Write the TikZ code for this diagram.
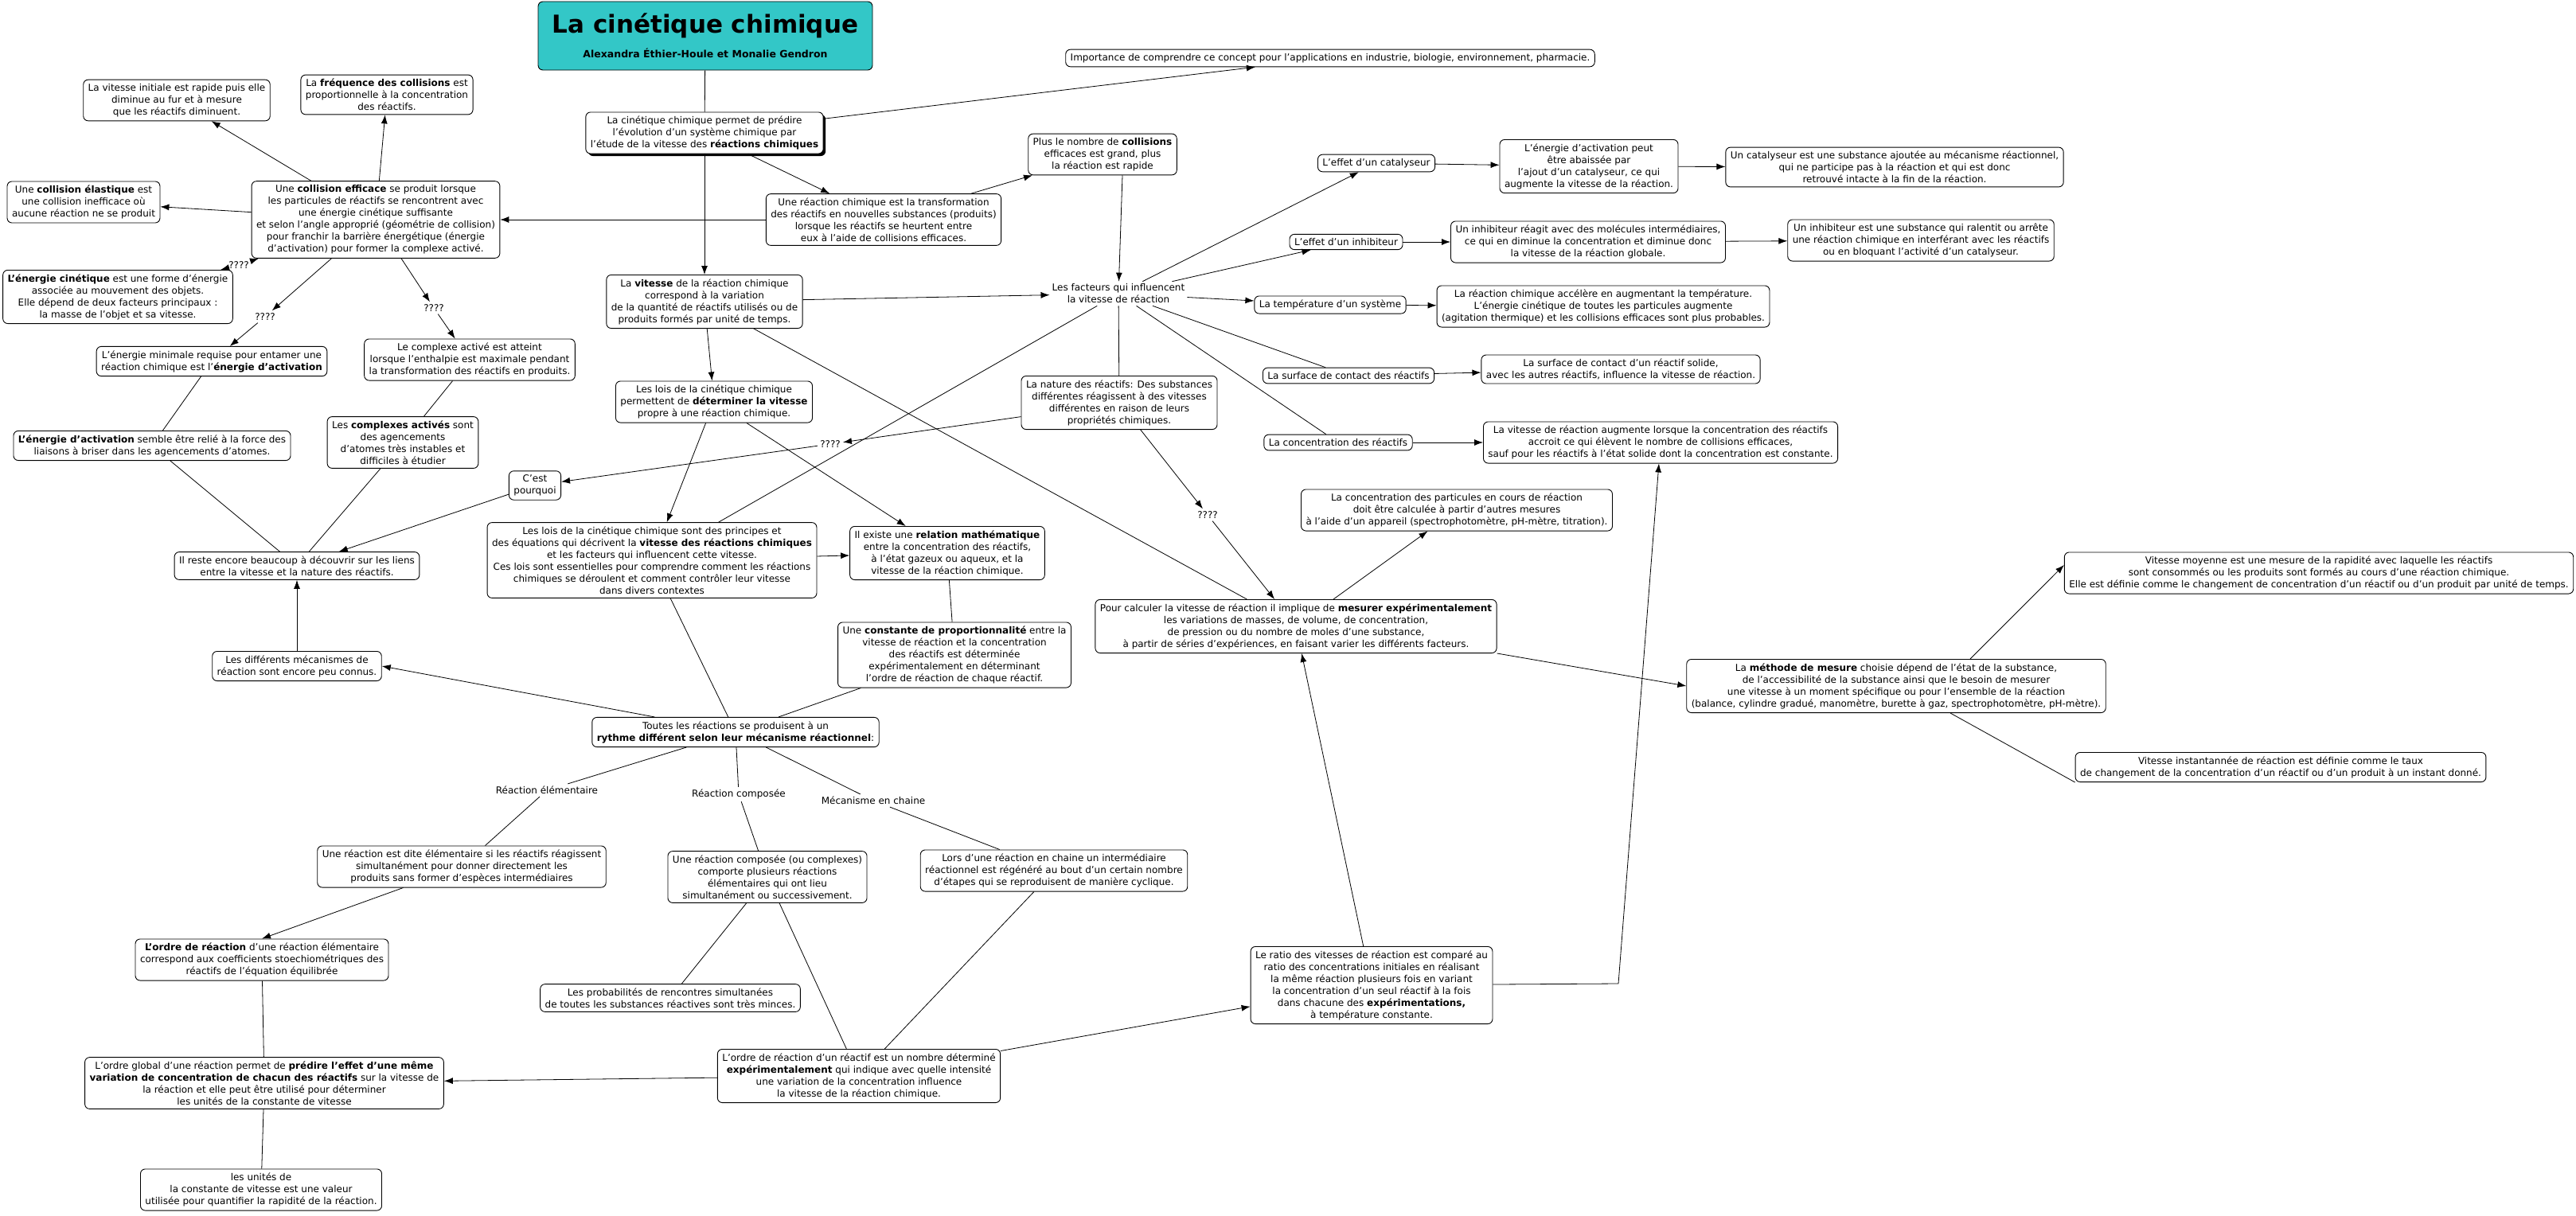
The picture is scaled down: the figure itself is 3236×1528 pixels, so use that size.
\documentclass[tikz,border=0pt]{standalone}
\usepackage{fontspec}
\setmainfont{DejaVu Sans}
\usetikzlibrary{
arrows.meta,
shadows
}
\definecolor{cmapteal}{RGB}{51,199,199}

\begin{document}
\begin{tikzpicture}[
        x=1pt, y=-1pt,
        concept box/.style={
          draw, line width=0.9pt, rounded corners=6pt,
          fill=white, align=center,
          inner xsep=6pt, inner ysep=5pt,
          font=\fontsize{12}{15}\selectfont,
        },
        title box/.style={
          concept box, fill=cmapteal,
          minimum width=420pt, minimum height=86pt,
        },
        shadowed/.style={
          drop shadow={shadow xshift=3pt, shadow yshift=-3pt, fill=black, opacity=1},
        },
        link phrase/.style={
          align=center, inner sep=3pt,
          font=\fontsize{12}{15}\selectfont,
        },
        link/.style={
          draw, line width=0.8pt,
        },
        link arrow/.style={
          link, -{Latex[length=11pt,width=8pt]},
        },
        ]
        \useasboundingbox (0,0) rectangle (3236,1528);

        \node [title box] (titre) at (886,45)
        {{\fontsize{31}{36}\selectfont\bfseries La cinétique chimique}\\[12pt]
          {\fontsize{12.5}{15}\selectfont\bfseries Alexandra Éthier-Houle et Monalie Gendron}};
        \node [concept box, shadowed] (intro) at (885,167)
        {La cinétique chimique permet de prédire\\l'évolution d'un système chimique par\\l'étude de la vitesse des \textbf{réactions chimiques}};
        \node [concept box] (importance) at (1671,73)
        {Importance de comprendre ce concept pour l'applications en industrie, biologie, environnement, pharmacie.};

        \node [concept box] (vitesse-initiale) at (222,126)
        {La vitesse initiale est rapide puis elle\\diminue au fur et à mesure\\que les réactifs diminuent.};
        \node [concept box] (frequence) at (486,119)
        {La \textbf{fréquence des collisions} est\\proportionnelle à la concentration\\des réactifs.};
        \node [concept box] (collision-elastique) at (105,254)
        {Une \textbf{collision élastique} est\\une collision inefficace où\\aucune réaction ne se produit};
        \node [concept box] (collision-efficace) at (472,276)
        {Une \textbf{collision efficace} se produit lorsque\\les particules de réactifs se rencontrent avec\\une énergie cinétique suffisante\\et selon l'angle approprié (géométrie de collision)\\pour franchir la barrière énergétique (énergie\\d'activation) pour former la complexe activé.};
        \node [concept box] (transformation) at (1110,276)
        {Une réaction chimique est la transformation\\des réactifs en nouvelles substances (produits)\\lorsque les réactifs se heurtent entre\\eux à l'aide de collisions efficaces.};
        \node [concept box] (nombre-collisions) at (1385,194)
        {Plus le nombre de \textbf{collisions}\\efficaces est grand, plus\\la réaction est rapide};
        \node [concept box] (energie-cinetique) at (148,373)
        {\textbf{L'énergie cinétique} est une forme d'énergie\\associée au mouvement des objets.\\Elle dépend de deux facteurs principaux :\\la masse de l'objet et sa vitesse.};
        \node [concept box] (vitesse) at (885,379)
        {La \textbf{vitesse} de la réaction chimique\\correspond à la variation\\de la quantité de réactifs utilisés ou de\\produits formés par unité de temps.};
        \node [link phrase] (facteurs) at (1405,369)
        {Les facteurs qui influencent\\la vitesse de réaction};

        \node [concept box] (catalyseur) at (1729,205) {L'effet d'un catalyseur};
        \node [concept box] (inhibiteur) at (1691,304) {L'effet d'un inhibiteur};
        \node [concept box] (temperature) at (1671,383) {La température d'un système};
        \node [concept box] (surface) at (1694,472) {La surface de contact des réactifs};
        \node [concept box] (concentration) at (1681,556) {La concentration des réactifs};

        \node [concept box] (catalyseur-energie) at (1996,209)
        {L'énergie d'activation peut\\être abaissée par\\l'ajout d'un catalyseur, ce qui\\augmente la vitesse de la réaction.};
        \node [concept box] (catalyseur-def) at (2380,210)
        {Un catalyseur est une substance ajoutée au mécanisme réactionnel,\\qui ne participe pas à la réaction et qui est donc\\retrouvé intacte à la fin de la réaction.};
        \node [concept box] (inhibiteur-effet) at (1995,304)
        {Un inhibiteur réagit avec des molécules intermédiaires,\\ce qui en diminue la concentration et diminue donc\\la vitesse de la réaction globale.};
        \node [concept box] (inhibiteur-def) at (2413,302)
        {Un inhibiteur est une substance qui ralentit ou arrête\\une réaction chimique en interférant avec les réactifs\\ou en bloquant l'activité d'un catalyseur.};
        \node [concept box] (temperature-def) at (2014,385)
        {La réaction chimique accélère en augmentant la température.\\L'énergie cinétique de toutes les particules augmente\\(agitation thermique) et les collisions efficaces sont plus probables.};
        \node [concept box] (surface-def) at (2036,464)
        {La surface de contact d'un réactif solide,\\avec les autres réactifs, influence la vitesse de réaction.};
        \node [concept box] (concentration-def) at (2086,556)
        {La vitesse de réaction augmente lorsque la concentration des réactifs\\accroit ce qui élèvent le nombre de collisions efficaces,\\sauf pour les réactifs à l'état solide dont la concentration est constante.};

        \node [concept box] (energie-minimale) at (266,454)
        {L'énergie minimale requise pour entamer une\\réaction chimique est l'\textbf{énergie d'activation}};
        \node [concept box] (complexe-atteint) at (590,452)
        {Le complexe activé est atteint\\lorsque l'enthalpie est maximale pendant\\la transformation des réactifs en produits.};
        \node [concept box] (lois-determiner) at (897,505)
        {Les lois de la cinétique chimique\\permettent de \textbf{déterminer la vitesse}\\propre à une réaction chimique.};
        \node [concept box] (nature) at (1406,506)
        {La nature des réactifs: Des substances\\différentes réagissent à des vitesses\\différentes en raison de leurs\\propriétés chimiques.};
        \node [concept box] (energie-activation) at (191,560)
        {\textbf{L'énergie d'activation} semble être relié à la force des\\liaisons à briser dans les agencements d'atomes.};
        \node [concept box] (complexes-actives) at (506,556)
        {Les \textbf{complexes activés} sont\\des agencements\\d'atomes très instables et\\difficiles à étudier};
        \node [concept box] (pourquoi) at (672,610) {C'est\\pourquoi};
        \node [concept box] (reste) at (373,711)
        {Il reste encore beaucoup à découvrir sur les liens\\entre la vitesse et la nature des réactifs.};
        \node [concept box] (lois-principes) at (819,704)
        {Les lois de la cinétique chimique sont des principes et\\des équations qui décrivent la \textbf{vitesse des réactions chimiques}\\et les facteurs qui influencent cette vitesse.\\Ces lois sont essentielles pour comprendre comment les réactions\\chimiques se déroulent et comment contrôler leur vitesse\\dans divers contextes};
        \node [concept box] (relation) at (1190,695)
        {Il existe une \textbf{relation mathématique}\\entre la concentration des réactifs,\\à l'état gazeux ou aqueux, et la\\vitesse de la réaction chimique.};
        \node [concept box] (particules) at (1830,641)
        {La concentration des particules en cours de réaction\\doit être calculée à partir d'autres mesures\\à l'aide d'un appareil (spectrophotomètre, pH-mètre, titration).};
        \node [concept box] (mesurer) at (1628,787)
        {Pour calculer la vitesse de réaction il implique de \textbf{mesurer expérimentalement}\\les variations de masses, de volume, de concentration,\\de pression ou du nombre de moles d'une substance,\\à partir de séries d'expériences, en faisant varier les différents facteurs.};
        \node [concept box] (constante) at (1199,823)
        {Une \textbf{constante de proportionnalité} entre la\\vitesse de réaction et la concentration\\des réactifs est déterminée\\expérimentalement en déterminant\\l'ordre de réaction de chaque réactif.};
        \node [concept box] (mecanismes) at (373,837)
        {Les différents mécanismes de\\réaction sont encore peu connus.};
        \node [concept box] (rythme) at (924,920)
        {Toutes les réactions se produisent à un\\\textbf{rythme différent selon leur mécanisme réactionnel}:};

        \node [concept box] (vitesse-moyenne) at (2913,720)
        {Vitesse moyenne est une mesure de la rapidité avec laquelle les réactifs\\sont consommés ou les produits sont formés au cours d'une réaction chimique.\\Elle est définie comme le changement de concentration d'un réactif ou d'un produit par unité de temps.};
        \node [concept box] (methode) at (2382,862)
        {La \textbf{méthode de mesure} choisie dépend de l'état de la substance,\\de l'accessibilité de la substance ainsi que le besoin de mesurer\\une vitesse à un moment spécifique ou pour l'ensemble de la réaction\\(balance, cylindre gradué, manomètre, burette à gaz, spectrophotomètre, pH-mètre).};
        \node [concept box] (vitesse-instant) at (2865,964)
        {Vitesse instantannée de réaction est définie comme le taux\\de changement de la concentration d'un réactif ou d'un produit à un instant donné.};

        \node [link phrase] (reaction-elementaire) at (687,993) {Réaction élémentaire};
        \node [link phrase] (reaction-composee) at (928,998) {Réaction composée};
        \node [link phrase] (mecanisme-chaine) at (1097,1006) {Mécanisme en chaine};

        \node [concept box] (elementaire) at (580,1089)
        {Une réaction est dite élémentaire si les réactifs réagissent\\simultanément pour donner directement les\\produits sans former d'espèces intermédiaires};
        \node [concept box] (composee) at (964,1102)
        {Une réaction composée (ou complexes)\\comporte plusieurs réactions\\élémentaires qui ont lieu\\simultanément ou successivement.};
        \node [concept box] (chaine) at (1324,1094)
        {Lors d'une réaction en chaine un intermédiaire\\réactionnel est régénéré au bout d'un certain nombre\\d'étapes qui se reproduisent de manière cyclique.};
        \node [concept box] (ordre-elementaire) at (329,1206)
        {\textbf{L'ordre de réaction} d'une réaction élémentaire\\correspond aux coefficients stoechiométriques des\\réactifs de l'équation équilibrée};
        \node [concept box] (probabilites) at (842,1254)
        {Les probabilités de rencontres simultanées\\de toutes les substances réactives sont très minces.};
        \node [concept box] (ratio) at (1723,1238)
        {Le ratio des vitesses de réaction est comparé au\\ratio des concentrations initiales en réalisant\\la même réaction plusieurs fois en variant\\la concentration d'un seul réactif à la fois\\dans chacune des \textbf{expérimentations,}\\à température constante.};
        \node [concept box] (ordre-global) at (332,1361)
        {L'ordre global d'une réaction permet de \textbf{prédire l'effet d'une même}\\\textbf{variation de concentration de chacun des réactifs} sur la vitesse de\\la réaction et elle peut être utilisé pour déterminer\\les unités de la constante de vitesse};
        \node [concept box] (ordre-reactif) at (1079,1352)
        {L'ordre de réaction d'un réactif est un nombre déterminé\\\textbf{expérimentalement} qui indique avec quelle intensité\\une variation de la concentration influence\\la vitesse de la réaction chimique.};
        \node [concept box] (unites) at (328,1495)
        {les unités de\\la constante de vitesse est une valeur\\utilisée pour quantifier la rapidité de la réaction.};

        \node [link phrase] (q-cinetique) at (300,333) {????};
        \node [link phrase] (q-minimale) at (333,398) {????};
        \node [link phrase] (q-complexe) at (545,387) {????};
        \node [link phrase] (q-pourquoi) at (1043,558) {????};
        \node [link phrase] (q-mesurer) at (1517,647) {????};
        \coordinate (ratio-coude) at (2033,1236);

        \draw [link] (titre) -- (intro);
        \draw [link arrow] (intro) -- (importance);
        \draw [link arrow] (intro) -- (transformation);
        \draw [link arrow] (intro) -- (vitesse);
        \draw [link arrow] (transformation) -- (collision-efficace);
        \draw [link arrow] (transformation) -- (nombre-collisions);
        \draw [link arrow] ([xshift=25pt]nombre-collisions.south) -- (facteurs);
        \draw [link arrow] (vitesse) -- (facteurs);
        \draw [link arrow] (facteurs) -- (catalyseur);
        \draw [link arrow] (facteurs) -- (inhibiteur);
        \draw [link arrow] (facteurs) -- (temperature);
        \draw [link] (facteurs) -- (surface);
        \draw [link] (facteurs) -- (concentration);
        \draw [link] (facteurs) -- (nature);
        \draw [link arrow] (catalyseur) -- (catalyseur-energie);
        \draw [link arrow] (catalyseur-energie) -- (catalyseur-def);
        \draw [link arrow] (inhibiteur) -- (inhibiteur-effet);
        \draw [link arrow] (inhibiteur-effet) -- (inhibiteur-def);
        \draw [link arrow] (temperature) -- (temperature-def);
        \draw [link arrow] (surface) -- (surface-def);
        \draw [link arrow] (concentration) -- (concentration-def);

        \draw [link arrow] (collision-efficace) -- (vitesse-initiale);
        \draw [link arrow] (collision-efficace) -- (frequence);
        \draw [link arrow] (collision-efficace) -- (collision-elastique);
        \draw [link arrow] (q-cinetique) -- (collision-efficace);
        \draw [link arrow] (q-cinetique) -- (energie-cinetique);
        \draw [link arrow] (collision-efficace) -- (q-minimale);
        \draw [link arrow] (q-minimale) -- (energie-minimale);
        \draw [link arrow] (collision-efficace) -- (q-complexe);
        \draw [link arrow] (q-complexe) -- (complexe-atteint);
        \draw [link] (energie-minimale) -- (energie-activation);
        \draw [link] (complexe-atteint) -- (complexes-actives);
        \draw [link] (energie-activation) -- (reste);
        \draw [link] (complexes-actives) -- (reste);
        \draw [link arrow] (pourquoi) -- (reste);
        \draw [link arrow] (nature) -- (q-pourquoi);
        \draw [link arrow] (q-pourquoi) -- (pourquoi);
        \draw [link arrow] (nature) -- (q-mesurer);
        \draw [link arrow] (q-mesurer) -- (mesurer);

        \draw [link arrow] (vitesse) -- (lois-determiner);
        \draw [link] (vitesse) -- (mesurer);
        \draw [link arrow] (lois-determiner) -- (lois-principes);
        \draw [link arrow] (lois-determiner) -- (relation);
        \draw [link arrow] (lois-principes) -- (relation);
        \draw [link] (lois-principes) -- (facteurs);
        \draw [link] (lois-principes) -- (rythme);
        \draw [link] (relation) -- (constante);
        \draw [link] (constante) -- (rythme);
        \draw [link arrow] ([xshift=79pt]rythme.north west) -- (mecanismes.east);
        \draw [link arrow] (mecanismes) -- (reste);

        \draw [link] (rythme) -- (reaction-elementaire);
        \draw [link] (reaction-elementaire) -- (elementaire);
        \draw [link] (rythme) -- (reaction-composee);
        \draw [link] (reaction-composee) -- (composee);
        \draw [link] (rythme) -- (mecanisme-chaine);
        \draw [link] (mecanisme-chaine) -- (chaine);
        \draw [link arrow] (elementaire) -- (ordre-elementaire.north);
        \draw [link] (ordre-elementaire) -- (ordre-global);
        \draw [link] (ordre-global) -- (unites);
        \draw [link] (composee) -- (probabilites);
        \draw [link] (composee) -- (ordre-reactif);
        \draw [link] (chaine) -- (ordre-reactif);
        \draw [link arrow] (ordre-reactif) -- (ordre-global);
        \draw [link arrow] (ordre-reactif) -- (ratio);
        \draw [link arrow] (ratio) -- (mesurer);
        \draw [link arrow] (ratio) -- (ratio-coude) -- (concentration-def);
        \draw [link arrow] (mesurer) -- (particules);
        \draw [link arrow] (mesurer.south east) -- (methode.west);
        \draw [link arrow] ([xshift=93pt]methode.north) -- ([yshift=10pt]vitesse-moyenne.west);
        \draw [link] ([xshift=68pt]methode.south) -- (vitesse-instant.south west);
      \end{tikzpicture}
\end{document}
